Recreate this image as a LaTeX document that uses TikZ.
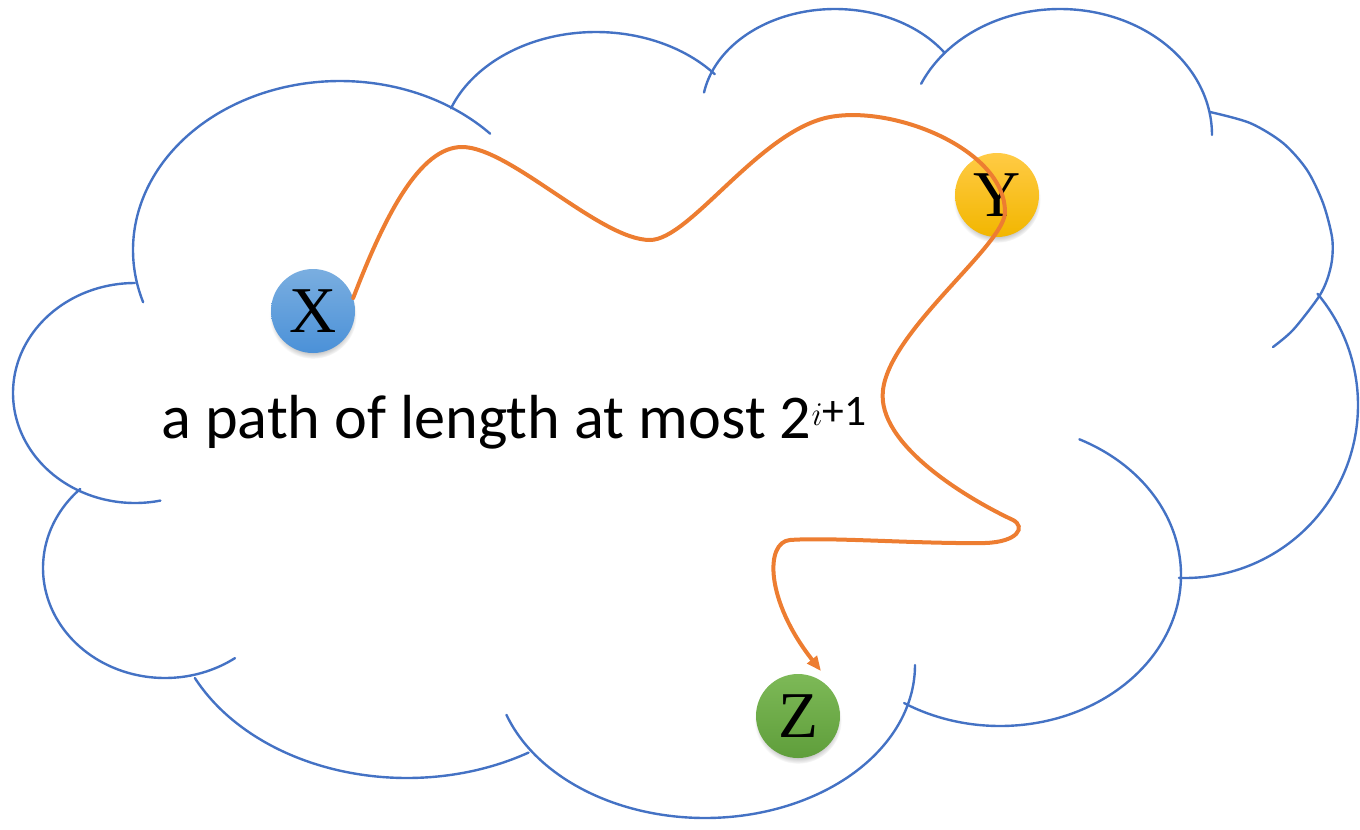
\documentclass[tikz,border=0pt]{standalone}
\usepackage{fontspec}
\setmainfont{Carlito}
\newfontfamily\ballfont{Liberation Serif}
\usetikzlibrary{shadows,arrows.meta}
\definecolor{cloudblue}{HTML}{4472C4}
\definecolor{pathorange}{HTML}{ED7D31}
\definecolor{xtop}{HTML}{7AAEE0}
\definecolor{xbot}{HTML}{4B91D8}
\definecolor{ytop}{HTML}{FFCB45}
\definecolor{ybot}{HTML}{F2B600}
\definecolor{ztop}{HTML}{7DB957}
\definecolor{zbot}{HTML}{5F9E3B}
\tikzset{
  cloudline/.style={draw=cloudblue, line width=1.8pt, line cap=round},
  ball/.style={circle, minimum size=63pt, inner sep=0pt, font=\ballfont\fontsize{49}{49}\selectfont,
    circular drop shadow={shadow xshift=0pt, shadow yshift=-3pt, shadow scale=1.04, opacity=0.45}},
  pathline/.style={draw=pathorange, line width=3pt, line cap=round}
}
% cx, cy, rx, ry, t0, t1
\newcommand\cloudlobe[6]{\draw[cloudline] plot[domain=#5:#6, samples=90, smooth, variable=\t] ({#1+#3*cos(\t)},{#2+#4*sin(\t)});}
\begin{document}
\begin{tikzpicture}[x=0.75pt,y=-0.75pt]
\useasboundingbox (0,0) rectangle (1360,829);
% cloud lobes
\cloudlobe{340}{250}{207}{169}{162}{316.5}   % K top-left
\cloudlobe{135}{393}{122}{110}{78}{270}      % A left
\cloudlobe{165}{568}{122}{110}{55}{226}      % B lower-left
\cloudlobe{407}{600}{236}{178}{59}{154}      % C bottom-left
\cloudlobe{705}{665}{210}{153}{0}{161}       % D bottom
\cloudlobe{1000}{575}{181}{151}{-64}{122}    % E bottom-right
\cloudlobe{1185}{405}{173}{173}{-40}{92}     % F right
\draw[cloudline] plot[smooth] coordinates {(1210,112) (1250,123) (1283,143) (1307,170) (1323,203) (1332,237) (1332,260) (1327,280) (1318,298) (1293,330) (1273,347)}; % G
\cloudlobe{1060}{135}{152}{126}{204}{360}    % H top-right
\cloudlobe{835}{110}{133}{101}{190}{325}     % I top
\cloudlobe{596}{150}{155}{118}{200.7}{320}   % J top
% nodes
\node[ball, top color=xtop, bottom color=xbot] (X) at (313,311) {X};
\node[ball, top color=ytop, bottom color=ybot] (Y) at (997,195) {Y};
\node[ball, top color=ztop, bottom color=zbot] (Z) at (798,716) {Z};
\coordinate (zt) at (821,671);
% label
\node[anchor=base west, inner sep=0pt, font=\fontsize{46.7}{47}\selectfont] (lbl) at (161,438) {a path of length at most 2\textsuperscript{$i$+1}};
% path
\draw[pathline, -{Triangle[length=11pt,width=9pt]}]
  (X.18) .. controls (385,215) and (420,147) .. (462,147)
  .. controls (510,147) and (600,240) .. (650,240)
  .. controls (690,240) and (760,130) .. (830,117)
  .. controls (895,105) and (1005,150) .. (1005,212)
  .. controls (1005,245) and (890,330) .. (883,390)
  .. controls (876,445) and (970,500) .. (1013,520)
  .. controls (1026,527) and (1018,542) .. (985,543)
  .. controls (920,544) and (830,537) .. (790,540)
  .. controls (765,542) and (765,600) .. (zt);
\end{tikzpicture}
\end{document}
